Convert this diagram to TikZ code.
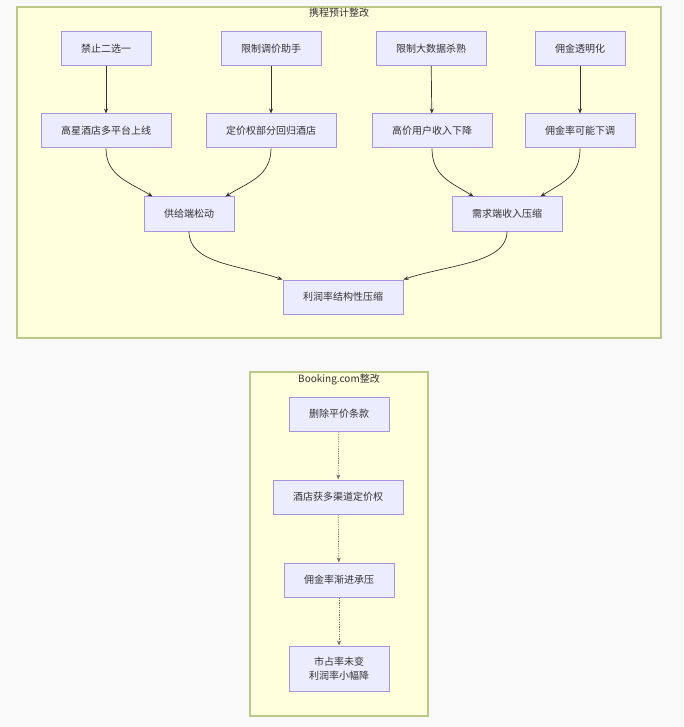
\documentclass[tikz,border=0pt]{standalone}
\usepackage{fontspec}
\newfontfamily\cjk{Noto Sans CJK SC}
\usepackage{xcolor}
\usepackage{tikz}
\usetikzlibrary{positioning,arrows.meta}
\definecolor{nodefill}{HTML}{ECECFF}
\definecolor{nodeline}{HTML}{A895E0}
\definecolor{groupfill}{HTML}{FFFFDE}
\definecolor{groupline}{HTML}{BCC88A}
\definecolor{edgeline}{HTML}{333333}
\definecolor{pagebg}{HTML}{F9F9FA}

\begin{document}
\begin{tikzpicture}[x=1pt, y=-1pt,
  every node/.style={font=\cjk\fontsize{10}{14}\selectfont, text=edgeline},
  box/.style={draw=nodeline, fill=nodefill, line width=1pt, minimum height=34pt, inner xsep=20pt, align=center},
  flow/.style={draw=edgeline, line width=0.7pt, -{Stealth[length=5pt,width=4pt]}},
  dotflow/.style={flow, draw=edgeline!70, dash pattern=on 1.2pt off 1.2pt}]
% Fundo e molduras dos dois grupos
\fill[pagebg] (0,0) rectangle (683,727);
\useasboundingbox (0,0) rectangle (683,727);
\draw[groupline, fill=groupfill, line width=1.1pt] (17,7) rectangle (661,338);
\draw[groupline, fill=groupfill, line width=1.1pt] (250,372) rectangle (428,716);
\node (ctitle) at (339,13) {携程预计整改};
\node (btitle) at (339,380) {Booking.com整改};
%携程: medidas (linha de cima)
\node[box] (ban)   at (106,48.5) {禁止二选一};
\node[box] (adj)   at (271,48.5) {限制调价助手};
\node[box] (data)  at (431,48.5) {限制大数据杀熟};
\node[box] (comm)  at (580,48.5) {佣金透明化};
%携程: efeitos diretos
\node[box] (multi) at (106,131) {高星酒店多平台上线};
\node[box] (price) at (271,131) {定价权部分回归酒店};
\node[box] (rich)  at (432,131) {高价用户收入下降};
\node[box] (rate)  at (580,131) {佣金率可能下调};
%携程: agregados
\node[box] (supply) at (189,214) {供给端松动};
\node[box] (demand) at (507,214) {需求端收入压缩};
\node[box] (margin) at (343,297) {利润率结构性压缩};
% Booking.com
\node[box] (parity) at (339,414) {删除平价条款};
\node[box] (chan)   at (338,497) {酒店获多渠道定价权};
\node[box] (press)  at (339,580) {佣金率渐进承压};
\node[box, minimum height=45pt] (share) at (339,668.5) {市占率未变\\利润率小幅降};
% Arestas retas
\draw[flow] (ban) -- (multi);
\draw[flow] (adj) -- (price);
\draw[flow] (data) -- (rich);
\draw[flow] (comm) -- (rate);
% Arestas curvas
\draw[flow] (multi.south) .. controls +(0,28) and +(-22,-14) .. ([xshift=9pt]supply.north west);
\draw[flow] (price.south) .. controls +(0,28) and +(22,-14) .. ([xshift=-9pt]supply.north east);
\draw[flow] (rich.south) .. controls +(0,28) and +(-22,-14) .. ([xshift=22pt]demand.north west);
\draw[flow] (rate.south) .. controls +(0,28) and +(22,-14) .. ([xshift=-22pt]demand.north east);
\draw[flow] (supply.south) .. controls +(0,32) and +(-45,-15) .. (margin.north west);
\draw[flow] (demand.south) .. controls +(0,32) and +(45,-15) .. (margin.north east);
% Booking: pontilhadas
\draw[dotflow] (parity) -- (chan);
\draw[dotflow] (chan) -- (press);
\draw[dotflow] (press) -- (share);
\end{tikzpicture}
\end{document}
